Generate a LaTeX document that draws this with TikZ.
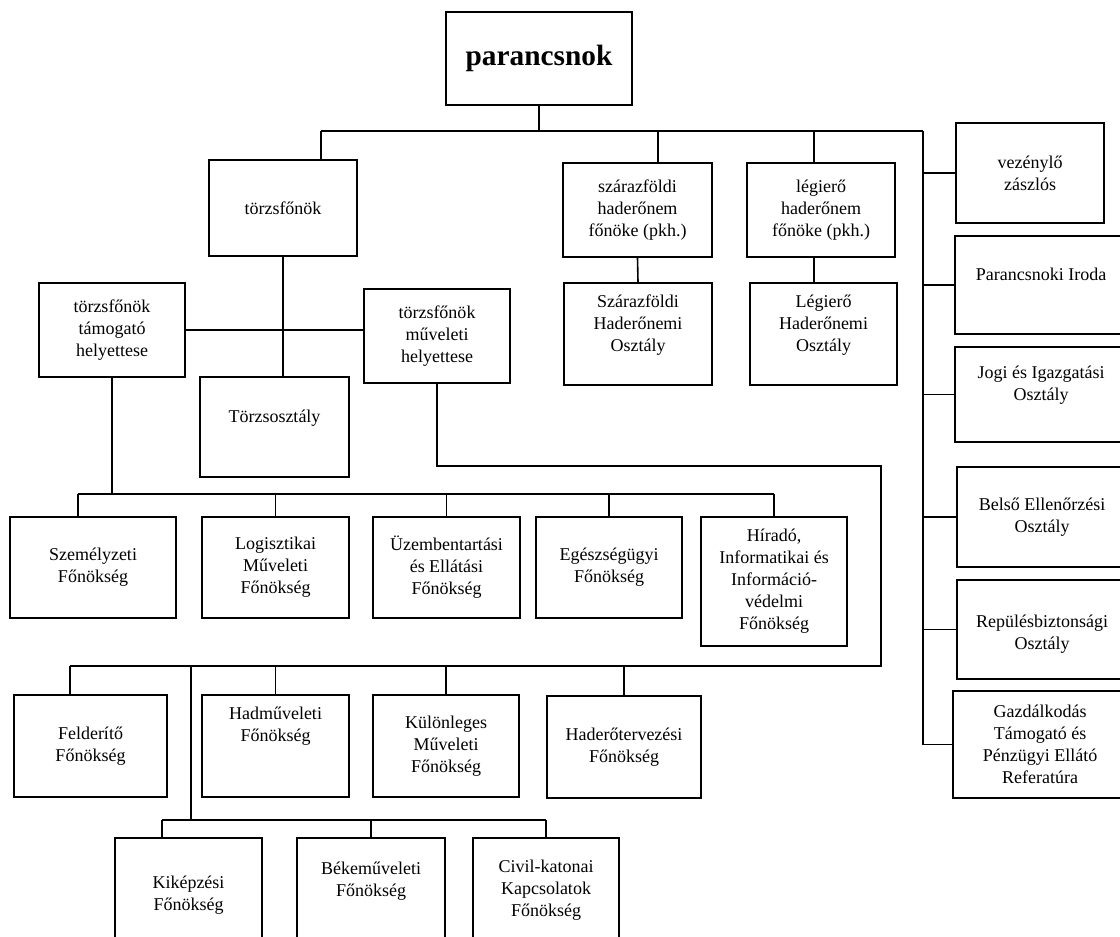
\documentclass[tikz,border=0pt]{standalone}
\usepackage{fontspec}
\setmainfont{Liberation Serif}
\begin{document}
\begin{tikzpicture}[x=0.75pt, y=-0.75pt, line width=1.2pt,
  box/.style={draw, rectangle, align=center, inner sep=0pt, font=\fontsize{13.5}{16.5}\selectfont},
  wh/.style 2 args={minimum width={#1*0.75pt}, minimum height={#2*0.75pt}}]
\useasboundingbox (0,0) rectangle (1120,937);

\node[box, wh={186}{93}, font=\fontsize{22}{26}\selectfont\bfseries] (pk) at (539,58.5) {parancsnok};

\node[box, wh={148}{96}] (tf) at (283,208) {törzsfőnök};
\node[box, wh={149}{94}] (szf) at (637.5,210) {szárazföldi\\haderőnem\\főnöke (pkh.)};
\node[box, wh={148}{94}] (lef) at (821,210) {légierő\\haderőnem\\főnöke (pkh.)};

\node[box, wh={146}{94}] (tth) at (112,330) {törzsfőnök\\támogató\\helyettese};
\node[box, wh={146}{94}] (tmh) at (437,336) {törzsfőnök\\műveleti\\helyettese};
\node[box, wh={149}{100}] (tzo) at (274.5,427) {Törzsosztály\\~};
\node[box, wh={148}{102}] (szo) at (638,334) {Szárazföldi\\Haderőnemi\\Osztály\\~};
\node[box, wh={147}{102}] (leo) at (823.5,334) {Légierő\\Haderőnemi\\Osztály\\~};

\node[box, wh={148}{100}] (vz) at (1030,173) {vezénylő\\zászlós};
\node[box, wh={172}{98}] (pi) at (1041,285) {Parancsnoki Iroda\\~};
\node[box, wh={172}{95}] (jo) at (1041,394.5) {Jogi és Igazgatási\\Osztály\\~};
\node[box, wh={170}{100}] (be) at (1042,517) {Belső Ellenőrzési\\Osztály};
\node[box, wh={170}{99}] (rb) at (1042,629.5) {~\\Repülésbiztonsági\\Osztály};
\node[box, wh={174}{107}] (ga) at (1040,744.5) {Gazdálkodás\\Támogató és\\Pénzügyi Ellátó\\Referatúra};

\node[box, wh={166}{101}] (szem) at (93,567.5) {Személyzeti\\Főnökség};
\node[box, wh={147}{101}] (log) at (275.5,567.5) {Logisztikai\\Műveleti\\Főnökség};
\node[box, wh={147}{101}] (uz) at (446.5,567.5) {Üzembentartási\\és Ellátási\\Főnökség};
\node[box, wh={146}{101}] (eg) at (609,567.5) {Egészségügyi\\Főnökség};
\node[box, wh={146}{129}] (hi) at (774,581.5) {Híradó,\\Informatikai és\\Információ-\\védelmi\\Főnökség};

\node[box, wh={153}{102}] (fel) at (90.5,746) {Felderítő\\Főnökség};
\node[box, wh={147}{102}] (had) at (275.5,746) {Hadműveleti\\Főnökség\\~\\~};
\node[box, wh={146}{102}] (kul) at (446,746) {Különleges\\Műveleti\\Főnökség};
\node[box, wh={154}{102}] (het) at (624,747) {Haderőtervezési\\Főnökség};

\node[box, wh={147}{104}] (kik) at (188.5,890) {~\\Kiképzési\\Főnökség};
\node[box, wh={148}{104}] (bek) at (371,890) {Békeműveleti\\Főnökség\\~};
\node[box, wh={146}{104}] (civ) at (546,890) {Civil-katonai\\Kapcsolatok\\Főnökség};

\coordinate (tl) at (321,131);
\coordinate (tr) at (923,131);
\coordinate (d1) at (658,131);
\coordinate (d2) at (814,131);
\draw (pk.south) -- (pk.south |- tl);
\draw (tl) -- (tr);
\draw (tl) -- (tl |- tf.north);
\draw (d1) -- (d1 |- szf.north);
\draw (d2) -- (d2 |- lef.north);
\draw (szf.south) -- (szo.north);
\draw (d2 |- lef.south) -- (d2 |- leo.north);

\draw (tr) -- (tr |- ga.west);
\draw (tr |- vz.west) -- (vz.west);
\draw (tr |- pi.west) -- (pi.west);
\draw (tr |- jo.west) -- (jo.west);
\draw (tr |- be.west) -- (be.west);
\draw (tr |- rb.west) -- (rb.west);
\draw (tr |- ga.west) -- (ga.west);

\draw (tf.south) -- (tf.south |- tzo.north);
\draw (tth.east) -- (tth.east -| tmh.west);

\coordinate (r1l) at (78,494);
\coordinate (r1r) at (774,494);
\draw (tth.south) -- (tth.south |- r1l);
\draw (r1l) -- (r1r);
\draw (r1l) -- (r1l |- szem.north);
\draw (log.north |- r1l) -- (log.north);
\draw (uz.north |- r1l) -- (uz.north);
\draw (eg.north |- r1l) -- (eg.north);
\draw (hi.north |- r1l) -- (hi.north);

\coordinate (lp) at (881,466);
\coordinate (r2r) at (881,666);
\coordinate (r2l) at (70,666);
\draw (tmh.south) |- (lp) -- (r2r) -- (r2l);
\draw (r2l) -- (r2l |- fel.north);
\draw (had.north |- r2l) -- (had.north);
\draw (kul.north |- r2l) -- (kul.north);
\draw (het.north |- r2l) -- (het.north);

\coordinate (r3t) at (191,666);
\coordinate (r3l) at (162,820);
\coordinate (r3r) at (546,820);
\draw (r3t) -- (r3t |- r3l);
\draw (r3l) -- (r3r);
\draw (r3l) -- (r3l |- kik.north);
\draw (bek.north |- r3l) -- (bek.north);
\draw (civ.north |- r3l) -- (civ.north);
\end{tikzpicture}
\end{document}
